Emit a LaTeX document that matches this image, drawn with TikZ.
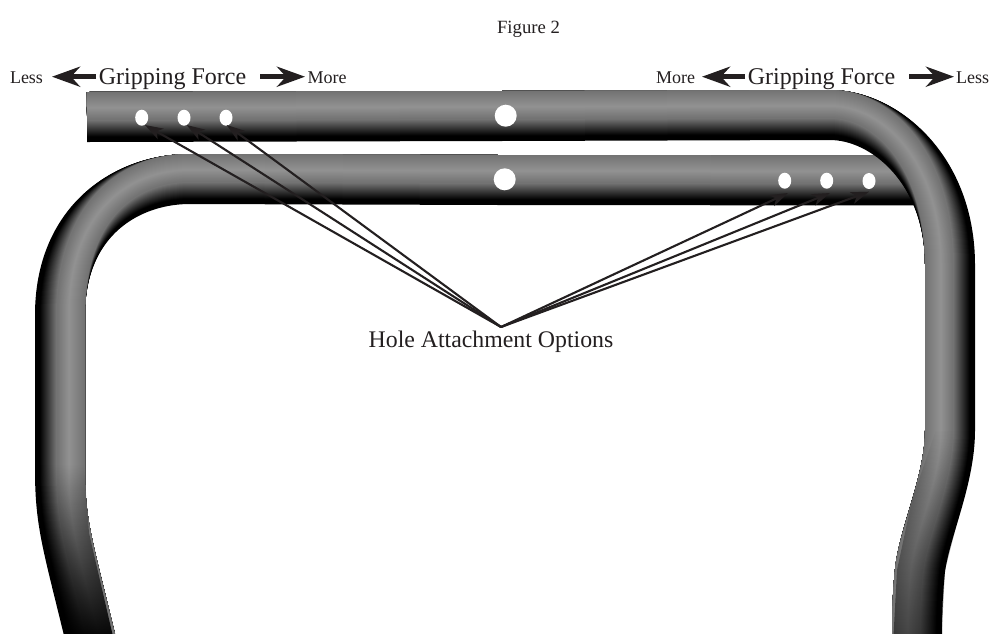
\documentclass[tikz,border=0pt]{standalone}
\usepackage{fontspec}
\setmainfont{Liberation Serif}
\usetikzlibrary{arrows.meta,shapes.geometric,fadings}
\definecolor{ink}{HTML}{231F20}
\tikzfading[name=fadeleg, top color=transparent!100, bottom color=transparent!0]
\tikzfading[name=fadeblob, top color=transparent!100, middle color=transparent!0, bottom color=transparent!45]
\tikzset{
  smallhole/.style={ellipse,fill=white,inner sep=0pt,minimum width=13pt,minimum height=16pt},
  bighole/.style={ellipse,fill=white,inner sep=0pt,minimum width=22pt,minimum height=22pt},
  lab/.style={anchor=base,inner sep=0pt,text=ink},
  bigarrow/.style={line width=5pt,draw=ink,-{Stealth[length=28pt,width=20pt,inset=9pt]}},
  pointer/.style={line width=2.1pt,draw=ink,-{Stealth[length=18pt,width=12pt,inset=5pt]}},
}
% d = offset toward the lit side
\newcommand{\rearTube}[1]{
  (87,{117-#1}) -- (500,{116-#1}) -- (830,{115-#1})
  .. controls (885,{115-#1}) and ({950-#1},{170-0.7*#1}) .. ({950-#1},265)
  -- ({950-#1},430)
  .. controls ({950-#1},480) and ({925-#1},530) .. ({920-#1},570)
  .. controls ({917-#1},600) and ({917-#1},620) .. ({917-#1},645)}
\newcommand{\frontTube}[1]{
  (935,{180.5-#1}) -- (500,{180-#1}) -- (190,{179-#1})
  .. controls (125,{179-#1}) and ({60+#1},{222-0.7*#1}) .. ({60+#1},315)
  -- ({60+#1},470)
  .. controls ({60+#1},525) and ({68+#1},545) .. ({92+#1},645)}
\newcommand{\stackTube}[1]{%
  \foreach \i in {0,...,21}{%
    \pgfmathsetmacro{\lo}{25-\i}%
    \pgfmathsetmacro{\wd}{\lo+25}%
    \pgfmathsetmacro{\dd}{(25-\lo)/2}%
    \pgfmathsetmacro{\gy}{100*0.45*max(0,(\i/21-0.22)/0.78)}%
    \draw[line width=\wd pt,line join=round,draw=white!\gy!black] #1{\dd};
  }%
  \foreach \i in {1,...,15}{%
    \pgfmathsetmacro{\up}{-25+\i}%
    \pgfmathsetmacro{\lo}{3-0.75*\i}%
    \pgfmathsetmacro{\wd}{\lo-\up}%
    \pgfmathsetmacro{\dd}{-(\up+\lo)/2}%
    \pgfmathsetmacro{\gy}{45+12*\i/15}%
    \draw[line width=\wd pt,line join=round,draw=white!\gy!black] #1{\dd};
  }%
}
\begin{document}
\begin{tikzpicture}[x=1pt,y=-1pt]
\clip (0,0) rectangle (992,633);
\fill[white] (0,0) rectangle (992,633);
% front tube
\stackTube{\frontTube}
\fill[black,path fading=fadeleg] (36,465) -- (84,465) -- (89,533) -- (115,645) -- (68,645) -- (42,533) -- cycle;
% rear tube
\stackTube{\rearTube}
\fill[black,path fading=fadeblob] (936,430) -- (976,430) -- (963,500) -- (945,570) -- (941,645) -- (893,645) -- (897,570) -- (912,500) -- cycle;
% holes
\node[smallhole] (a1) at (141.7,117.7) {};
\node[smallhole] (a2) at (184,117.7) {};
\node[smallhole] (a3) at (226,117.7) {};
\node[bighole] (ac) at (505.7,115.7) {};
\node[bighole] (bc) at (504.7,179.3) {};
\node[smallhole] (b1) at (784.7,180.7) {};
\node[smallhole] (b2) at (826.7,180.7) {};
\node[smallhole] (b3) at (869,181) {};
% labels
\node[lab,font=\fontsize{18.7}{20}\selectfont] (fig) at (528.5,33) {Figure 2};
\node[lab,font=\fontsize{24}{27}\selectfont] (gf1) at (172.5,84) {Gripping Force};
\node[lab,font=\fontsize{24}{27}\selectfont] (gf2) at (821.5,84) {Gripping Force};
\node[lab,font=\fontsize{18}{20}\selectfont] (less1) at (26.5,83.5) {Less};
\node[lab,font=\fontsize{18}{20}\selectfont] (more1) at (327,83.5) {More};
\node[lab,font=\fontsize{18}{20}\selectfont] (more2) at (675.5,83.5) {More};
\node[lab,font=\fontsize{18}{20}\selectfont] (less2) at (972.5,83.5) {Less};
\node[lab,font=\fontsize{23.8}{26}\selectfont] (hole) at (491,347.5) {Hole Attachment Options};
% arrow ends
\coordinate (l1a) at (96,76.7);  \coordinate (l1b) at (52,76.7);
\coordinate (r1a) at (260,76.7); \coordinate (r1b) at (305,76.7);
\coordinate (l2a) at (745,76.7); \coordinate (l2b) at (702,76.7);
\coordinate (r2a) at (909,76.7); \coordinate (r2b) at (954,76.7);
\draw[bigarrow] (l1a) -- (l1b);
\draw[bigarrow] (r1a) -- (r1b);
\draw[bigarrow] (l2a) -- (l2b);
\draw[bigarrow] (r2a) -- (r2b);
% pointers
\coordinate (apex) at (501,327);
\coordinate (t1) at (145,125);
\coordinate (t2) at (186.7,125);
\coordinate (t3) at (226.7,125);
\coordinate (t4) at (788,193);
\coordinate (t5) at (830,193);
\coordinate (t6) at (869,191.7);
\foreach \t in {t1,t2,t3,t4,t5,t6}{\draw[pointer] (apex) -- (\t);}
\end{tikzpicture}
\end{document}
